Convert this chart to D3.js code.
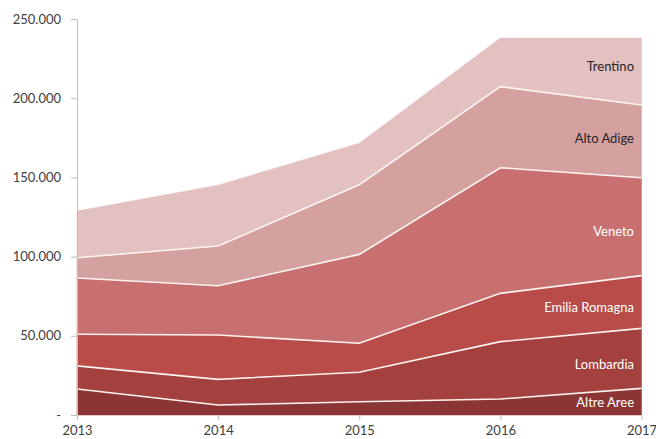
<!DOCTYPE html>
<html>
<head>
<meta charset="utf-8">
<script src="https://cdn.jsdelivr.net/npm/d3@7"></script>
<style>
  html, body { margin: 0; padding: 0; background: #fff; }
  svg { display: block; font-family: Lato, "Open Sans", sans-serif; }
</style>
</head>
<body>
<svg id="chart" width="656" height="439"></svg>
<script>
// Years on the horizontal axis
const years = [2013, 2014, 2015, 2016, 2017];

// Stacked series, bottom to top (values in units)
const seriesNames = ["Altre Aree", "Lombardia", "Emilia Romagna", "Veneto", "Alto Adige", "Trentino"];
const altreAree     = [16400,  6300,  8400, 10100, 16800];
const lombardia     = [14600, 16200, 18600, 36200, 37900];
const emiliaRomagna = [20000, 28000, 18300, 30500, 33300];
const veneto        = [35500, 31100, 56100, 79300, 61800];
const altoAdige     = [12800, 25100, 44000, 51200, 45900];
const trentino      = [29500, 38400, 26200, 30700, 42300];

// Y-axis tick values and labels
const yTicks = [0, 50000, 100000, 150000, 200000, 250000];
const yTickLabels = ["-", "50.000", "100.000", "150.000", "200.000", "250.000"];

const seriesValues = [altreAree, lombardia, emiliaRomagna, veneto, altoAdige, trentino];
const fills = ["#8c3535", "#a4403e", "#b94c49", "#c7706f", "#d5a0a0", "#e3c1c1"];
const labelColors = ["#ffffff", "#ffffff", "#ffffff", "#ffffff", "#262626", "#262626"];
const labelYOffsets = [0, 0, 0, 0, 0, 0];

const table = years.map((yr, i) => {
  const row = { year: yr };
  seriesNames.forEach((n, k) => { row[n] = seriesValues[k][i]; });
  return row;
});

const svg = d3.select("#chart");
const x = d3.scaleLinear().domain([2013, 2017]).range([77, 641.5]);
const y = d3.scaleLinear().domain([0, 250000]).range([415, 19]);

const stack = d3.stack().keys(seriesNames);
const layers = stack(table);

const area = d3.area()
  .x(d => x(d.data.year))
  .y0(d => y(d[0]))
  .y1(d => y(d[1]));

const topLine = d3.line()
  .x(d => x(d.data.year))
  .y(d => y(d[1]));

svg.append("g").selectAll("path")
  .data(layers)
  .join("path")
  .attr("d", area)
  .attr("fill", (d, i) => fills[i])
  .attr("stroke", (d, i) => fills[i])
  .attr("stroke-width", 0.5);

// White separators between stacked layers
svg.append("g").selectAll("path")
  .data(layers.slice(0, layers.length - 1))
  .join("path")
  .attr("d", topLine)
  .attr("fill", "none")
  .attr("stroke", "#fbf3f0")
  .attr("stroke-width", 1.6);

// Y axis
const yAxis = d3.axisLeft(y)
  .tickValues(yTicks)
  .tickFormat((d, i) => yTickLabels[i])
  .tickSize(6)
  .tickPadding(10);
const gy = svg.append("g").attr("transform", "translate(77,0)").call(yAxis);
gy.select(".domain").attr("stroke", "#bfbfbf");
gy.selectAll(".tick line").attr("stroke", "#bfbfbf");
gy.selectAll(".tick text").attr("fill", "#404040").style("font-size", "13px")
  .style("font-family", "Lato, 'Open Sans', sans-serif");

// X axis
const xAxis = d3.axisBottom(x)
  .tickValues(years)
  .tickFormat(d3.format("d"))
  .tickSize(5)
  .tickPadding(6);
const gx = svg.append("g").attr("transform", "translate(0,415)").call(xAxis);
gx.select(".domain").remove();
gx.selectAll(".tick line").attr("stroke", "#bfbfbf");
gx.selectAll(".tick text").attr("fill", "#404040").style("font-size", "13px")
  .style("font-family", "Lato, 'Open Sans', sans-serif");

// Series labels at the right end of each layer
const lastIdx = years.length - 1;
const labelPos = [404, 366, 309, 233, 140, 68];
svg.append("g").selectAll("text")
  .data(layers)
  .join("text")
  .attr("x", 634)
  .attr("y", (d, i) => labelPos[i] + labelYOffsets[i])
  .attr("text-anchor", "end")
  .attr("dominant-baseline", "middle")
  .attr("fill", (d, i) => labelColors[i])
  .style("font-size", "13px")
  .text(d => d.key);
</script>
</body>
</html>
